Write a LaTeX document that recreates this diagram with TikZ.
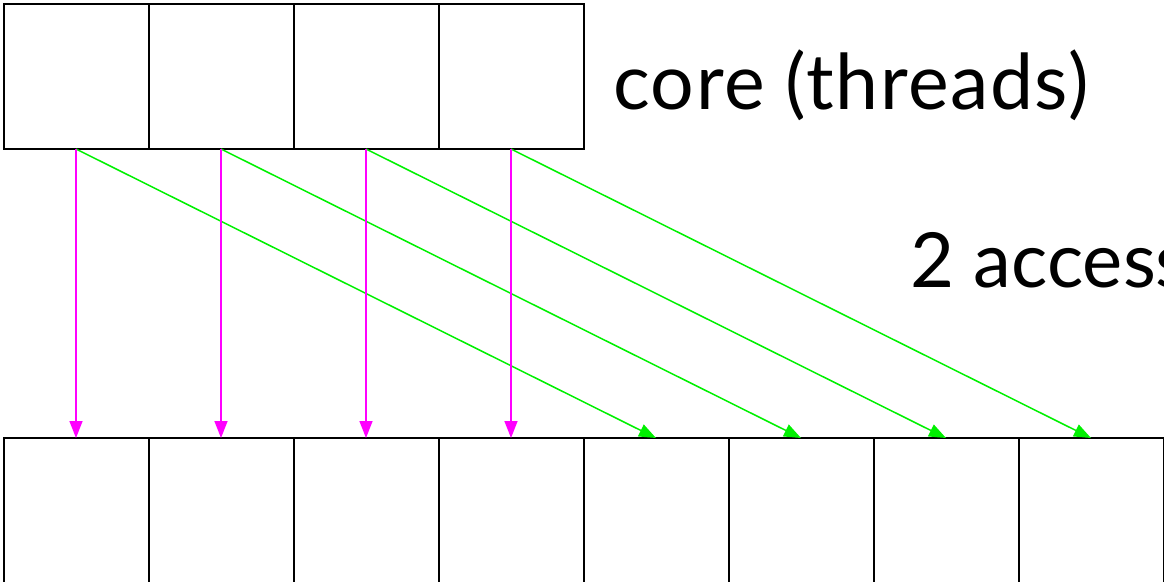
\documentclass[tikz,border=0pt]{standalone}
\usepackage{fontspec}
\setmainfont{Lato}[LetterSpace=2]
\newfontfamily\tightlato{Lato}
\usetikzlibrary{arrows.meta}
\definecolor{accmag}{RGB}{255,0,255}
\definecolor{accgreen}{RGB}{0,240,0}
\tikzset{
  cell/.style={draw=black, line width=2pt, minimum width=145pt, minimum height=145pt, inner sep=0pt, outer sep=0pt},
  direct/.style={draw=accmag, line width=1.5pt, -{Triangle[length=17pt,width=13pt]}},
  shifted/.style={draw=accgreen, line width=1.5pt, -{Triangle[length=17pt,width=13pt]}},
  caption/.style={anchor=base west, inner sep=0pt, font=\fontsize{77}{80}\selectfont}
}
\begin{document}
\begin{tikzpicture}[x=1pt, y=-1pt]
  \useasboundingbox (0,0) rectangle (1164,581);
  % thread cells of the core
  \foreach \i in {1,...,4}
    \node[cell] (t\i) at ({3.5+72.5+145*(\i-1)}, 76.5) {};
  % memory cells
  \foreach \i in {1,...,8}
    \node[cell] (b\i) at ({3.5+72.5+145*(\i-1)}, 510.5) {};
  % labels
  \node[caption] (lcore) at (613,109) {core (threads)};
  \node[caption, font=\tightlato\fontsize{76}{80}\selectfont] (lacc) at (910,287) {2 access};
  % accesses
  \foreach \i [evaluate=\i as \j using int(\i+4)] in {1,...,4} {
    \draw[shifted] (t\i.south) -- (b\j.north);
    \draw[direct] (t\i.south) -- (b\i.north);
  }
\end{tikzpicture}
\end{document}
